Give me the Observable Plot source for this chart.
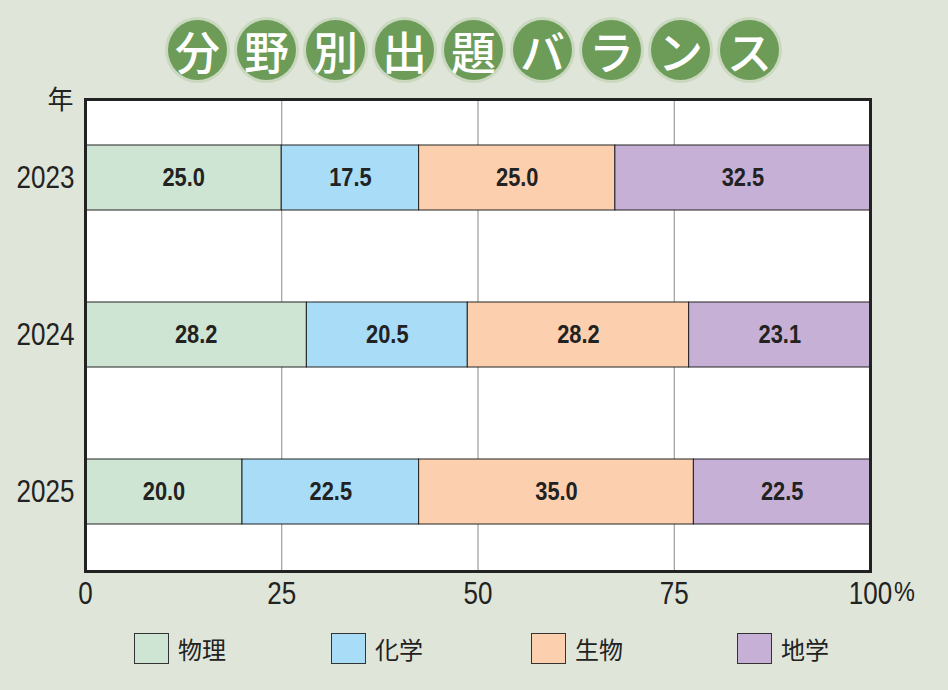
<!DOCTYPE html>
<html><head><meta charset="utf-8">
<script src="https://cdn.jsdelivr.net/npm/d3@7"></script>
<script src="https://cdn.jsdelivr.net/npm/@observablehq/plot@0.6"></script>
<style>
html,body{margin:0;padding:0;background:#dfe5d8;width:948px;height:690px;overflow:hidden;}
#title{position:absolute;left:0;top:0;width:948px;height:84px;}
.c{position:absolute;top:20px;width:59px;height:60px;border-radius:50%;background:#6c9c58;
box-shadow:0 0 0 3px #c9d8be;color:#fff;font-family:"Noto Sans CJK JP";font-weight:500;font-size:45px;
display:flex;align-items:center;justify-content:center;line-height:1;}
#chart{position:absolute;left:0;top:80px;}
#legend{position:absolute;top:633px;left:0;width:948px;height:32px;font-family:"Noto Sans CJK JP";font-size:24px;color:#222;}
.li{position:absolute;display:flex;align-items:center;height:31px;}
.sw{width:33px;height:29px;border:1px solid #333;margin-right:9px;}
</style></head>
<body>
<div id="title"></div>
<div id="chart"></div>
<div id="legend"></div>
<script>
const titleChars = ["分","野","別","出","題","バ","ラ","ン","ス"];
const years = ["2023","2024","2025"];
const subjects = ["物理","化学","生物","地学"];
const colors = ["#cfe5d4","#a9dcf6","#fcd0af","#c6b0d6"];
const physics = [25.0, 28.2, 20.0];
const chemistry = [17.5, 20.5, 22.5];
const biology = [25.0, 28.2, 35.0];
const earth = [32.5, 23.1, 22.5];
const xTicks = [0, 25, 50, 75, 100];
const legendX = [134, 331, 531, 737];

const series = [physics, chemistry, biology, earth];
const data = [];
years.forEach((y, i) => subjects.forEach((s, j) => data.push({year: y, subject: s, value: series[j][i]})));

const t = document.getElementById("title");
titleChars.forEach((ch, i) => {
  const d = document.createElement("div");
  d.className = "c"; d.textContent = ch;
  d.style.left = (168 + i * 69) + "px";
  t.appendChild(d);
});

const font = '"Liberation Sans",Arial,sans-serif';
const plot = Plot.plot({
  width: 948, height: 550,
  marginLeft: 85, marginRight: 78, marginTop: 19, marginBottom: 59,
  style: {background: "transparent", fontFamily: font, fontSize: "31px", color: "#222"},
  x: {domain: [0, 100], ticks: xTicks, tickFormat: d => d, label: null},
  y: {domain: years, paddingInner: 0.585, paddingOuter: 0.2925, label: null},
  color: {domain: subjects, range: colors},
  marks: [
    Plot.frame({fill: "white", stroke: null}),
    Plot.ruleX([25, 50, 75], {stroke: "#8a8a8a", strokeWidth: 1}),
    Plot.barX(data, Plot.stackX({x: "value", y: "year", fill: "subject", stroke: "#222", strokeWidth: 1, order: subjects})),
    Plot.text(data, Plot.stackX({x: "value", y: "year", z: "subject", order: subjects, text: d => d.value.toFixed(1),
      fontWeight: "bold", fontSize: 26, fill: "#222", className: "narrowb"})),
    Plot.frame({stroke: "#222", strokeWidth: 3}),
    Plot.axisX({ticks: xTicks, tickSize: 0, tickPadding: 10, tickFormat: d => d, fontSize: 31, className: "narrow"}),
    Plot.axisY({tickSize: 0, tickPadding: 11, fontSize: 31, className: "narrow"}),
    Plot.text(["%"], {x: 100, frameAnchor: "bottom", dy: 10, dx: 34, fontSize: 28, lineAnchor: "top", className: "narrow"}),
    Plot.text(["年"], {frameAnchor: "top-left", dx: -25, dy: 1, fontSize: 26, fontFamily: "Noto Sans CJK JP", textAnchor: "middle", lineAnchor: "middle"})
  ]
});
document.getElementById("chart").appendChild(plot);

// condense the digits like the narrow face of the original
plot.querySelectorAll(".narrow text, .narrowb text").forEach(el => {
  const tr = el.getAttribute("transform") || "";
  el.setAttribute("transform", tr + " scale(0.84,1)");
});

const lg = document.getElementById("legend");
subjects.forEach((s, i) => {
  const it = document.createElement("div");
  it.className = "li"; it.style.left = legendX[i] + "px";
  it.innerHTML = `<div class="sw" style="background:${colors[i]}"></div><span>${s}</span>`;
  lg.appendChild(it);
});
</script>
</body></html>
